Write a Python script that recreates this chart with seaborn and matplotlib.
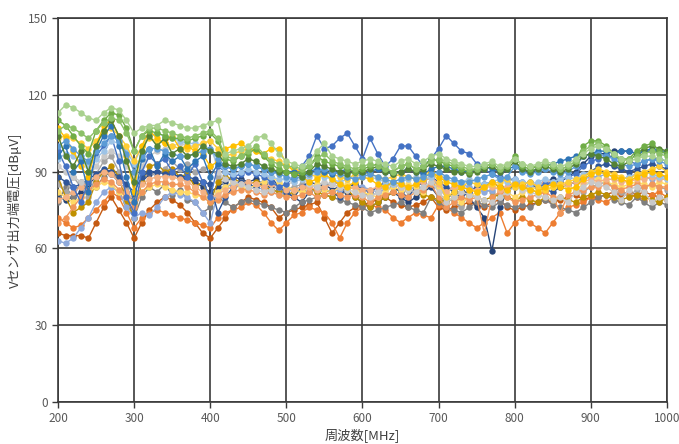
import matplotlib
matplotlib.use("Agg")
import matplotlib.pyplot as plt
import numpy as np
import pandas as pd
import seaborn as sns

# frequency axis, 10 MHz steps
freq = list(range(200, 1001, 10))

s01 = [113,116,115,113,111,110,113,115,114,110,105,107,108,108,110,109,108,107,107,108,109,
       110,97,98,99,100,103,104,101,97,94,
       93,92,94,98,101,96,95,94,93,94,
       95,94,93,92,94,95,93,94,96,97,
       95,94,93,92,92,93,94,92,93,95,
       93,92,93,94,93,92,93,95,97,99,
       100,99,97,95,94,95,96,96,95,94]
s02 = [110,108,104,100,97,106,110,113,112,107,98,104,106,105,104,103,103,102,103,104,105,
       102,95,94,96,97,99,96,93,91,90,
       89,90,92,96,94,93,92,91,90,91,
       92,93,91,90,92,93,91,92,95,94,
       93,92,91,90,91,92,93,91,92,96,
       92,91,92,93,92,91,92,94,100,102,
       102,100,97,94,95,98,100,101,98,97]
s03 = [104,96,92,98,90,100,106,110,104,94,86,98,104,100,103,97,99,96,97,100,98,
       97,93,92,93,95,94,92,91,90,90,
       89,88,90,93,92,91,90,89,90,90,
       91,92,90,89,90,91,90,91,93,92,
       91,90,90,89,90,91,92,90,91,94,
       91,90,91,92,91,90,91,93,96,97,
       96,95,93,92,94,97,99,100,99,98]
s04 = [107,103,98,92,88,100,108,110,104,96,82,100,106,103,101,104,99,100,98,97,92,
       94,99,100,101,99,98,97,99,99,93,
       90,88,86,87,89,87,85,84,86,88,
       87,85,84,86,85,84,85,87,90,88,
       86,85,84,83,82,84,86,84,83,85,
       84,83,82,84,85,84,83,84,87,89,
       90,89,88,87,86,88,89,90,89,88]
s05 = [103,104,103,101,99,102,105,107,104,100,94,100,103,102,101,100,99,99,100,101,102,
       99,96,97,98,99,98,96,95,94,92,
       91,90,89,88,90,89,88,87,89,90,
       89,88,87,88,89,88,87,88,91,86,
       80,82,84,86,85,84,85,86,87,84,
       85,86,84,83,84,85,86,87,88,90,
       91,90,89,88,87,89,90,91,92,90]
s06 = [98,92,84,78,86,96,100,104,94,80,74,90,96,93,95,90,92,88,93,86,80,
       92,90,88,89,90,89,88,86,84,85,
       88,92,96,104,99,100,103,105,100,95,
       103,97,92,95,100,100,96,92,95,99,
       104,101,98,97,93,91,89,88,87,87,
       86,85,84,85,86,87,88,89,92,94,
       95,96,96,95,94,93,94,95,95,94]
s07 = [80,79,80,82,85,88,90,89,86,82,78,86,89,90,90,89,88,87,86,84,82,
       84,86,88,87,86,87,85,84,83,82,
       80,78,82,84,85,83,84,82,80,78,
       76,78,80,82,80,78,80,82,84,80,
       79,82,84,80,76,72,59,76,82,85,
       84,83,85,86,87,86,88,90,93,96,
       97,97,98,98,98,97,98,98,98,97]
s08 = [100,102,99,96,94,98,101,104,102,97,90,96,99,99,98,97,96,96,97,98,99,
       95,92,91,92,93,92,91,90,89,88,
       87,88,89,90,91,90,89,88,87,88,
       89,88,87,86,87,88,87,88,89,90,
       88,87,86,86,87,88,89,87,88,92,
       90,89,90,91,90,89,90,92,96,97,
       97,96,95,93,92,93,94,95,94,93]
s09 = [95,97,96,94,92,95,98,102,101,98,93,100,104,105,104,103,102,101,101,100,99,
       93,90,89,90,91,90,89,88,87,87,
       86,87,88,89,88,87,86,87,88,89,
       88,87,86,85,86,87,88,87,88,89,
       87,86,86,87,86,85,86,87,86,87,
       86,85,86,87,86,87,88,87,89,90,
       90,89,88,87,88,89,90,89,88,87]
s10 = [79,80,82,84,86,88,90,89,86,82,79,85,87,88,88,88,87,86,84,82,80,
       81,83,84,85,86,85,84,85,84,83,
       83,84,84,83,84,85,84,83,84,83,
       83,84,84,85,84,84,85,86,88,85,
       82,84,84,83,83,84,84,83,84,85,
       84,85,85,86,86,85,85,86,86,87,
       86,87,87,86,86,87,87,88,87,87]
s11 = [70,72,76,80,83,85,87,86,83,80,76,82,85,86,86,85,85,84,82,80,78,
       79,81,82,83,83,82,81,82,81,80,
       80,81,82,80,81,82,81,80,81,80,
       78,80,81,82,81,80,82,83,85,80,
       76,78,80,79,80,66,80,82,80,78,
       79,80,81,82,80,74,81,82,83,84,
       84,85,84,83,84,85,84,85,84,84]
s12 = [66,65,65,65,64,70,76,80,75,70,64,70,75,78,80,79,77,74,70,66,64,
       68,72,76,78,80,79,78,76,72,74,
       75,76,77,78,72,66,70,74,76,77,
       78,79,80,78,77,76,77,78,80,76,
       75,76,77,78,77,76,78,79,76,75,
       76,77,78,79,78,79,80,81,79,80,
       80,81,82,81,82,81,82,81,80,79]
s13 = [72,70,68,69,72,75,78,82,80,74,68,72,74,75,74,73,72,71,70,69,68,
       72,74,75,76,78,77,74,70,67,70,
       73,74,76,75,74,70,64,70,74,76,
       77,76,75,72,70,72,74,73,72,77,
       76,74,72,70,68,70,72,74,66,70,
       72,70,68,66,70,74,76,77,78,80,
       79,78,80,82,81,80,79,81,82,80]
s14 = [85,82,88,84,80,89,94,96,90,84,76,86,90,88,91,94,91,93,90,91,92,
       88,84,83,85,86,85,84,83,82,83,
       84,85,83,82,84,86,85,83,84,82,
       80,82,84,86,85,83,84,86,88,84,
       80,78,76,82,84,83,82,80,84,86,
       85,83,82,84,86,85,84,83,82,84,
       85,86,84,82,80,83,84,85,84,83]
s15 = [78,84,80,86,82,84,88,90,87,80,72,80,84,82,85,81,83,79,78,74,76,
       80,78,76,78,79,78,77,76,75,74,
       76,78,79,80,81,80,79,78,77,76,
       74,75,76,77,78,76,75,74,80,78,
       76,75,74,76,78,77,76,78,77,76,
       77,76,78,79,77,76,75,74,76,78,
       80,81,79,78,77,80,78,76,78,77]
s16 = [88,80,74,76,78,86,90,92,88,78,72,86,92,93,90,91,88,89,84,86,78,
       86,88,87,86,85,86,84,83,82,81,
       82,83,84,82,81,80,82,83,80,78,
       76,78,80,82,84,83,82,81,80,79,
       78,80,82,81,80,79,80,81,80,79,
       80,79,78,80,79,80,79,78,80,81,
       82,81,80,79,80,81,80,79,78,80]
s17 = [96,100,90,94,82,98,104,108,100,88,78,95,99,92,97,94,96,91,94,96,88,
       93,92,91,92,93,92,91,90,90,90,
       90,89,90,91,90,89,90,91,90,89,
       90,91,90,89,90,91,90,89,91,92,
       92,91,90,90,91,92,91,90,91,92,
       91,90,91,92,93,94,95,96,96,97,
       98,98,97,98,98,97,98,99,98,98]
s18 = [63,62,64,68,72,78,82,84,82,76,72,74,73,76,80,82,81,80,78,74,70,
       82,84,85,86,85,84,83,82,81,82,
       83,84,85,84,83,82,83,84,85,84,
       83,82,83,84,85,84,83,84,85,84,
       83,84,85,84,83,82,83,84,83,84,
       85,84,85,86,85,84,85,86,87,88,
       88,89,88,87,88,89,88,87,88,88]
s19 = [106,108,107,105,103,106,109,111,110,105,98,104,107,107,106,105,104,103,104,105,106,
       103,96,95,96,98,100,97,94,93,92,
       92,91,92,95,97,94,93,92,91,92,
       93,92,91,90,92,93,91,92,94,95,
       94,93,92,91,91,92,93,91,92,95,
       93,92,92,93,92,91,92,94,98,100,
       101,99,97,95,95,96,97,98,97,96]
s20 = [92,90,88,86,88,92,96,98,96,92,88,92,96,98,99,100,101,100,100,101,102,
       90,87,86,85,84,83,82,83,84,85,
       86,87,85,84,86,85,84,83,82,81,
       80,82,84,85,84,83,82,84,86,82,
       78,80,82,81,80,79,78,80,82,84,
       83,82,81,80,79,80,78,82,84,86,
       85,84,82,79,83,84,82,78,80,79]
s21 = [88,86,84,85,87,89,91,90,88,85,82,88,90,90,89,89,88,88,87,86,85,
       74,80,84,86,85,84,86,88,84,82,
       80,84,86,85,83,82,80,84,85,83,
       82,84,86,84,82,80,84,86,88,86,
       84,82,80,82,84,85,86,84,83,84,
       85,86,84,83,82,84,85,86,88,90,
       92,93,92,91,90,91,92,93,92,91]
s22 = [82,80,78,80,82,84,86,85,82,80,78,82,84,85,84,83,82,82,81,80,79,
       82,84,86,84,83,85,86,88,86,84,
       83,82,84,85,83,82,84,85,83,82,
       81,80,82,84,83,85,84,82,86,84,
       82,80,78,80,82,84,85,83,82,80,
       82,84,83,82,84,85,84,83,85,86,
       87,86,85,84,85,86,85,84,86,85]

series = [s12, s13, s07, s15, s14, s16, s18, s21, s22, s11, s10, s20,
          s06, s09, s05, s04, s17, s08, s03, s02, s19, s01]
colors = ["#C55A11", "#ED7D31", "#264478", "#7F7F7F", "#A5A5A5", "#BF9000",
          "#8FAADC", "#2F5597", "#FFD966", "#F1975A", "#F4B183", "#C9C9C9",
          "#4472C4", "#9DC3E6", "#FFCD33", "#FFC000", "#2E75B6", "#5B9BD5",
          "#548235", "#70AD47", "#8CC168", "#A9D18E"]

rows = []
for i, s in enumerate(series):
    assert len(s) == len(freq), (i, len(s))
    for f, v in zip(freq, s):
        rows.append((f, v, "s%02d" % i))
df = pd.DataFrame(rows, columns=["freq", "val", "series"])

sns.set_theme(style="white")
plt.rcParams["font.family"] = ["Noto Sans CJK JP", "DejaVu Sans"]

fig = plt.figure(figsize=(6.79, 4.44), dpi=100)
ax = fig.add_axes([0.0854, 0.0946, 0.8969, 0.8649])

sns.lineplot(data=df, x="freq", y="val", hue="series", palette=colors,
             marker="o", markersize=4.6, markeredgewidth=0, linewidth=1.0,
             legend=False, ax=ax, zorder=3)

ax.set_xlim(200, 1000)
ax.set_ylim(0, 150)
ax.set_xticks(range(200, 1001, 100))
ax.set_yticks(range(0, 151, 30))
ax.grid(True, color="#3a3a3a", linewidth=1.2)
ax.set_axisbelow(True)
for sp in ax.spines.values():
    sp.set_color("#3a3a3a")
    sp.set_linewidth(1.2)
ax.tick_params(axis="both", colors="#595959", labelsize=8.5, length=4,
               width=1, direction="out", bottom=True, left=True)
ax.tick_params(axis="both", color="#3a3a3a")
ax.set_xlabel("周波数[MHz]", fontsize=9.5, color="#404040", labelpad=2)
ax.set_ylabel("Vセンサ出力端電圧[dBμV]", fontsize=9.5, color="#404040", labelpad=4)

fig.savefig("out.png", dpi=100)
